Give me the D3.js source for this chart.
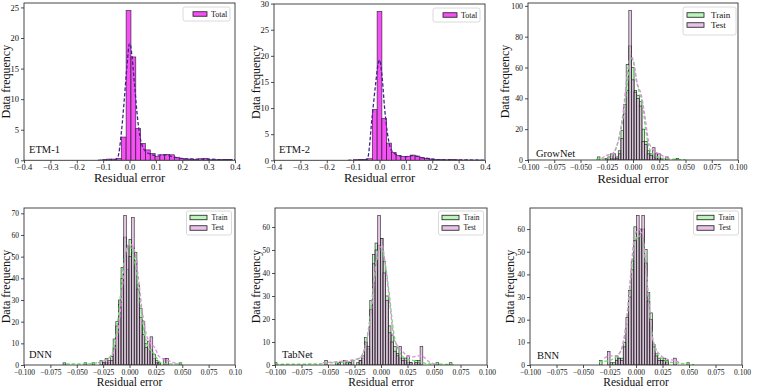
<!DOCTYPE html>
<html><head><meta charset="utf-8">
<script src="https://cdn.jsdelivr.net/npm/d3@7"></script>
<style>
body{margin:0;background:#fff;}
svg{display:block;}
text{font-family:"Liberation Serif","Times New Roman",serif;fill:#111;}
</style>
</head><body>
<svg id="c" width="769" height="387"></svg>
<script>
// ---------------- DATA ----------------
const etmXTicks = [-0.4,-0.3,-0.2,-0.1,0,0.1,0.2,0.3,0.4];
const etmXLabels = ["−0.4","−0.3","−0.2","−0.1","0.0","0.1","0.2","0.3","0.4"];
const nnXTicks = [-0.1,-0.075,-0.05,-0.025,0,0.025,0.05,0.075,0.1];
const nnXLabels = ["−0.100","−0.075","−0.050","−0.025","0.000","0.025","0.050","0.075","0.100"];
const dnnXLabels = ["−0.100","−0.075","−0.050","−0.025","0.000","0.025","0.050","0.075","0.10"];

// ETM-1 (density histogram, Total)
const etm1BinStart = -0.1043, etm1BinWidth = 0.0183;
const etm1Total = [0.1,0.2,0.2,0.3,3.8,24.5,16.9,5.2,2.75,1.7,1.1,0.6,0.9,0.95,0.9,0.5,0.3,0.2,0.2,0.15,0.25,0.3,0.1,0.1,0.1,0.15,0.15];
const etm1Kde = [[-0.12,0],[-0.08,0.05],[-0.055,0.1],[-0.045,0.4],[-0.03,4.9],[-0.02,9.8],[-0.01,15.2],[0,19.1],[0.004,18.8],[0.01,16.8],[0.02,11.9],[0.03,7.1],[0.04,3.8],[0.05,2.2],[0.06,1.5],[0.08,1.0],[0.1,0.8],[0.12,0.9],[0.14,0.9],[0.16,0.6],[0.2,0.3],[0.25,0.2],[0.3,0.2],[0.35,0.1],[0.4,0.1]];

// ETM-2
const etm2BinStart = -0.099, etm2BinWidth = 0.018;
const etm2Total = [0.1,0.15,0.15,0.3,9.7,28.5,8.0,3.3,1.5,0.9,0.7,0.75,1.0,0.8,0.5,0.4,0.25,0.15,0.15,0.1,0.15,0.1,0.05,0.05,0.05,0.05,0.05];
const etm2Kde = [[-0.12,0],[-0.08,0.05],[-0.055,0.1],[-0.045,0.4],[-0.028,8.3],[-0.015,14.5],[-0.005,18.5],[0,19.2],[0.01,15.9],[0.019,10.2],[0.03,5.2],[0.04,2.6],[0.05,1.6],[0.06,1.2],[0.08,0.8],[0.1,0.7],[0.12,0.9],[0.14,0.8],[0.16,0.5],[0.18,0.35],[0.2,0.2],[0.25,0.1],[0.3,0.1],[0.35,0.05],[0.4,0.05]];

// GrowNet (counts)
const growBinStart = -0.034, growBinWidth = 0.0025;
const growTrain = [2,0,0,0,0,1,1,2,6,19,30,62,74,60,45,42,38,20,12,6,4,2,1,1,0,0,0,0,0,0,1];
const growTest  = [0,0,0,1,2,4,4,1,4,14,36,45,97,52,44,40,35,12,10,4,3,8,4,4,1,0,2,0,0,0,0];
const growTrainKde = [[-0.035,0.5],[-0.025,1],[-0.02,3],[-0.015,10],[-0.01,25],[-0.005,52],[-0.002,66],[0,65],[0.003,52],[0.006,44],[0.009,36],[0.012,20],[0.015,9],[0.02,3],[0.025,1.5],[0.03,1],[0.04,0.5],[0.05,0.2]];
const growTestKde  = [[-0.03,1],[-0.025,3],[-0.02,4],[-0.015,10],[-0.01,28],[-0.005,58],[-0.002,68],[0.001,62],[0.004,50],[0.008,42],[0.011,30],[0.015,12],[0.02,6],[0.025,4],[0.03,2],[0.035,0.5]];

// DNN
const dnnBinStart = -0.063, dnnBinWidth = 0.0025;
const dnnTrain = [1,0,0,0,0,0,0,0,1,0,0,1,0,0,2,1,1,1,4,12,20,28,45,59,44,58,54,52,37,26,20,10,7,7,3,2,1,0,0,0,0,0,0,0,1];
const dnnTest  = [0,0,0,0,0,0,0,0,0,0,0,0,0,0,0,1,3,2,2,8,18,30,40,69,55,50,68,48,35,22,14,8,11,13,5,1,1,0,3,3,0,0,0,0,0];
const dnnTrainKde = [[-0.06,0.5],[-0.04,0.5],[-0.025,2],[-0.018,4],[-0.014,10],[-0.01,25],[-0.006,45],[-0.003,53],[0,55],[0.003,52],[0.006,45],[0.01,30],[0.014,15],[0.018,8],[0.022,6],[0.026,3],[0.03,1],[0.04,0.5],[0.05,0.5]];
const dnnTestKde  = [[-0.03,1],[-0.022,2.5],[-0.016,5],[-0.012,12],[-0.008,28],[-0.004,50],[0,56],[0.004,54],[0.008,42],[0.012,25],[0.016,14],[0.02,10],[0.024,8],[0.028,4],[0.034,2.5],[0.04,1.5],[0.045,0.5]];

// TabNet
const tabBinStart = -0.1006, tabBinWidth = 0.0025;
const tabTrain = [1,0,0,0,0,0,0,0,0,0,0,0,0,0,0,0,0,0,0,0,0,0,0,1,1,0,0,1,1,0,0,1,2,3,12,7,28,48,53,52,55,45,30,17,13,8,5,3,3,2,1,1,0,2,2,0,0,0,0,0,0,1,0,0,0,0,1];
const tabTest  = [0,0,0,0,0,0,0,0,0,0,0,0,0,0,0,0,0,0,0,2,0,0,0,0,1,0,2,0,1,2,0,0,2,4,10,8,24,44,50,65,55,40,28,14,10,6,4,8,2,3,4,1,0,1,1,8,0,0,0,0,0,0,0,0,0,0,0];
const tabTrainKde = [[-0.1,0.3],[-0.06,0.5],[-0.045,1],[-0.03,1.5],[-0.02,3],[-0.015,8],[-0.01,22],[-0.006,40],[-0.002,50],[0.001,50],[0.004,44],[0.008,30],[0.012,14],[0.016,7],[0.02,4],[0.025,2.5],[0.03,2],[0.035,1.5],[0.045,0.5],[0.06,0.3],[0.07,0.2]];
const tabTestKde  = [[-0.055,1],[-0.04,1.5],[-0.03,2],[-0.02,3],[-0.015,8],[-0.01,20],[-0.006,38],[-0.002,50],[0.001,52],[0.004,44],[0.008,28],[0.012,12],[0.016,8],[0.02,6],[0.025,4],[0.03,3.5],[0.035,4],[0.04,3.5],[0.045,1.5],[0.05,0.5]];

// BNN
const bnnBinStart = -0.0345, bnnBinWidth = 0.0025;
const bnnTrain = [2,0,0,0,1,1,4,3,3,10,18,33,46,61,56,58,60,51,32,23,9,5,3,2,3,1,0,0,0,0,0,0,0,1];
const bnnTest  = [0,0,0,6,0,0,2,3,2,8,21,30,42,55,66,60,66,45,28,20,8,4,2,2,2,2,0,0,3,0,0,0,0,0];
const bnnTrainKde = [[-0.035,1.5],[-0.025,2],[-0.018,4],[-0.013,8],[-0.009,18],[-0.005,38],[-0.002,52],[0.002,57],[0.006,56],[0.009,45],[0.012,28],[0.015,14],[0.019,6],[0.024,3],[0.03,1.5],[0.04,0.8],[0.048,0.5],[0.055,0.1]];
const bnnTestKde  = [[-0.03,3],[-0.025,4],[-0.018,4],[-0.013,8],[-0.009,20],[-0.005,40],[-0.002,55],[0.002,60],[0.006,58],[0.009,45],[0.012,28],[0.015,14],[0.019,7],[0.024,4],[0.03,2.5],[0.037,2],[0.042,0.5]];

// ---------------- DRAW ----------------
const svg = d3.select("#c");
const C_TOTAL = "#f446f4", C_TRAIN = "#90ee90", C_TEST = "#dda0dd";
let clipId = 0;

function drawPanel(cfg) {
  const g = svg.append("g");
  const x = d3.scaleLinear().domain(cfg.xDomain).range([cfg.left, cfg.right]);
  const maxV = d3.max(cfg.hists, h => d3.max(h.values));
  const y = d3.scaleLinear().domain([0, maxV * 1.05]).range([cfg.bottom, cfg.top]);
  const id = "clip" + (clipId++);
  g.append("clipPath").attr("id", id).append("rect")
    .attr("x", cfg.left).attr("y", cfg.top)
    .attr("width", cfg.right - cfg.left).attr("height", cfg.bottom - cfg.top);
  const plot = g.append("g").attr("clip-path", `url(#${id})`);

  cfg.hists.forEach(h => {
    plot.append("g").selectAll("rect")
      .data(h.values.map((v, i) => ({v, a: h.start + i * h.width, b: h.start + (i + 1) * h.width})).filter(d => d.v > 0))
      .join("rect")
      .attr("x", d => x(d.a)).attr("width", d => x(d.b) - x(d.a))
      .attr("y", d => y(d.v)).attr("height", d => y(0) - y(d.v))
      .attr("fill", h.color).attr("fill-opacity", h.opacity)
      .attr("stroke", "#1a1a1a").attr("stroke-width", 0.7).attr("stroke-opacity", 0.85);
  });
  const line = d3.line().x(d => x(d[0])).y(d => y(d[1])).curve(d3.curveMonotoneX);
  cfg.kdes.forEach(k => {
    plot.append("path").attr("d", line(k.points)).attr("fill", "none")
      .attr("stroke", k.color).attr("stroke-width", 1.3).attr("stroke-dasharray", "3.5,2");
  });

  // axes
  const xa = g.append("g").attr("transform", `translate(0,${cfg.bottom})`)
    .call(d3.axisBottom(x).tickValues(cfg.xTicks).tickFormat((d, i) => cfg.xLabels[i]).tickSize(3).tickPadding(cfg.xPad));
  xa.select(".domain").remove();
  xa.selectAll("text").attr("font-size", cfg.tickFont).attr("font-family", "Liberation Serif");
  const ya = g.append("g").attr("transform", `translate(${cfg.left},0)`)
    .call(d3.axisLeft(y).tickValues(cfg.yTicks).tickFormat(d3.format("d")).tickSize(3).tickPadding(2));
  ya.select(".domain").remove();
  ya.selectAll("text").attr("font-size", cfg.tickFont).attr("font-family", "Liberation Serif");
  g.selectAll(".tick line").attr("stroke", "#222").attr("stroke-width", 0.8);

  g.append("rect").attr("x", cfg.left).attr("y", cfg.top)
    .attr("width", cfg.right - cfg.left).attr("height", cfg.bottom - cfg.top)
    .attr("fill", "none").attr("stroke", "#333").attr("stroke-width", 0.9);

  // labels
  g.append("text").attr("x", (cfg.left + cfg.right) / 2).attr("y", cfg.xLabelY)
    .attr("text-anchor", "middle").attr("font-size", cfg.xLabelFont).text("Residual error");
  g.append("text").attr("transform", `translate(${cfg.yLabelX},${(cfg.top + cfg.bottom) / 2}) rotate(-90)`)
    .attr("text-anchor", "middle").attr("font-size", 12).text("Data frequency");
  g.append("text").attr("x", cfg.left + cfg.nameDx).attr("y", cfg.bottom - cfg.nameDy)
    .attr("font-size", 10.5).text(cfg.name);

  // legend
  const L = cfg.legend;
  const bx = cfg.right - L.dx - L.w, by = cfg.top + L.dy;
  g.append("rect").attr("x", bx).attr("y", by).attr("width", L.w).attr("height", L.h)
    .attr("rx", 2).attr("fill", "#fff").attr("fill-opacity", 0.85).attr("stroke", "#d0d0d0").attr("stroke-width", 0.8);
  L.items.forEach((it, i) => {
    const cy = by + L.rows[i];
    g.append("rect").attr("x", bx + L.px).attr("y", cy - L.ph / 2).attr("width", L.pw).attr("height", L.ph)
      .attr("fill", it.color).attr("fill-opacity", it.opacity).attr("stroke", "#1a1a1a").attr("stroke-width", 0.8);
    g.append("text").attr("x", bx + L.tx).attr("y", cy + L.font * 0.33).attr("font-size", L.font).text(it.label);
  });
}

const etmLegend = {w: 47, h: 14, dx: 5, dy: 4, rows: [7], px: 10, pw: 14, ph: 4.5, tx: 28, font: 8,
  items: [{label: "Total", color: C_TOTAL, opacity: 0.95}]};
const topLegend = {w: 53, h: 28, dx: 2, dy: 4, rows: [8, 18], px: 4, pw: 17, ph: 4.5, tx: 28, font: 9,
  items: [{label: "Train", color: C_TRAIN, opacity: 0.6}, {label: "Test", color: C_TEST, opacity: 0.65}]};
const botLegend = {w: 45, h: 24, dx: 3.5, dy: 3, rows: [6.5, 17], px: 3.5, pw: 17, ph: 4.5, tx: 25, font: 7.5,
  items: [{label: "Train", color: C_TRAIN, opacity: 0.6}, {label: "Test", color: C_TEST, opacity: 0.65}]};

function ttHists(start, width, tr, te) {
  return [{start, width, values: tr, color: C_TRAIN, opacity: 0.55},
          {start, width, values: te, color: C_TEST, opacity: 0.6}];
}
const trainKdeColor = "#5fe65f", testKdeColor = "#e08ce0", etmKdeColor = "#46208f";

drawPanel({left: 24, right: 235, top: 3, bottom: 160.3, xDomain: [-0.4, 0.4], xTicks: etmXTicks, xLabels: etmXLabels,
  yTicks: [0,5,10,15,20,25], tickFont: 8.5, xPad: 0.5, xLabelY: 182, xLabelFont: 12.5, yLabelX: 10, name: "ETM-1", nameDx: 5, nameDy: 7.5,
  hists: [{start: etm1BinStart, width: etm1BinWidth, values: etm1Total, color: C_TOTAL, opacity: 0.95}],
  kdes: [{points: etm1Kde, color: etmKdeColor}], legend: etmLegend});
drawPanel({left: 274, right: 485, top: 4, bottom: 160.3, xDomain: [-0.4, 0.4], xTicks: etmXTicks, xLabels: etmXLabels,
  yTicks: [0,5,10,15,20,25,30], tickFont: 8.5, xPad: 0.5, xLabelY: 182, xLabelFont: 12.5, yLabelX: 260, name: "ETM-2", nameDx: 5, nameDy: 7.5,
  hists: [{start: etm2BinStart, width: etm2BinWidth, values: etm2Total, color: C_TOTAL, opacity: 0.95}],
  kdes: [{points: etm2Kde, color: etmKdeColor}], legend: etmLegend});
drawPanel({left: 528, right: 738, top: 3, bottom: 160, xDomain: [-0.1, 0.1], xTicks: nnXTicks, xLabels: nnXLabels,
  yTicks: [0,20,40,60,80,100], tickFont: 7.8, xPad: 1.2, xLabelY: 182.5, xLabelFont: 12.5, yLabelX: 509, name: "GrowNet", nameDx: 8, nameDy: 3.5,
  hists: ttHists(growBinStart, growBinWidth, growTrain, growTest),
  kdes: [{points: growTrainKde, color: trainKdeColor}, {points: growTestKde, color: testKdeColor}], legend: topLegend});
drawPanel({left: 24, right: 235, top: 208, bottom: 365, xDomain: [-0.1, 0.1], xTicks: nnXTicks, xLabels: dnnXLabels,
  yTicks: [0,10,20,30,40,50,60,70], tickFont: 7.5, xPad: 1.2, xLabelY: 385.5, xLabelFont: 11.5, yLabelX: 10, name: "DNN", nameDx: 5, nameDy: 7,
  hists: ttHists(dnnBinStart, dnnBinWidth, dnnTrain, dnnTest),
  kdes: [{points: dnnTrainKde, color: trainKdeColor}, {points: dnnTestKde, color: testKdeColor}], legend: botLegend});
drawPanel({left: 275, right: 487, top: 208, bottom: 365, xDomain: [-0.1, 0.1], xTicks: nnXTicks, xLabels: nnXLabels,
  yTicks: [0,10,20,30,40,50,60], tickFont: 7.5, xPad: 1.2, xLabelY: 385.5, xLabelFont: 11.5, yLabelX: 260, name: "TabNet", nameDx: 7, nameDy: 7,
  hists: ttHists(tabBinStart, tabBinWidth, tabTrain, tabTest),
  kdes: [{points: tabTrainKde, color: trainKdeColor}, {points: tabTestKde, color: testKdeColor}], legend: botLegend});
drawPanel({left: 530, right: 742, top: 208, bottom: 365, xDomain: [-0.1, 0.1], xTicks: nnXTicks, xLabels: nnXLabels,
  yTicks: [0,10,20,30,40,50,60], tickFont: 7.5, xPad: 1.2, xLabelY: 385.5, xLabelFont: 11.5, yLabelX: 514, name: "BNN", nameDx: 7, nameDy: 6,
  hists: ttHists(bnnBinStart, bnnBinWidth, bnnTrain, bnnTest),
  kdes: [{points: bnnTrainKde, color: trainKdeColor}, {points: bnnTestKde, color: testKdeColor}], legend: botLegend});
</script>
</body></html>
